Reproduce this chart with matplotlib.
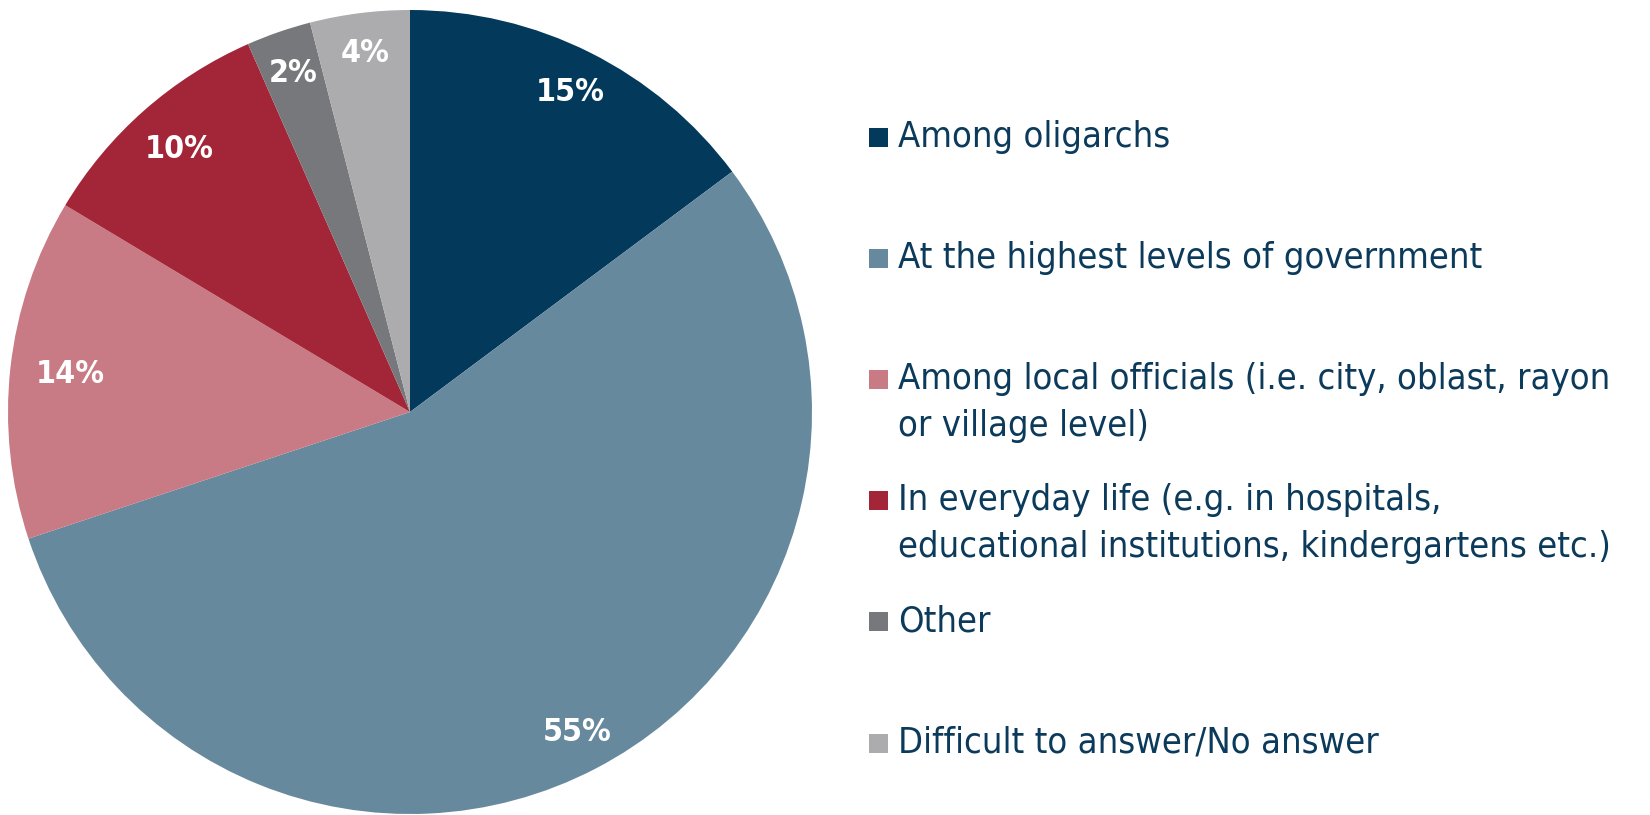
import matplotlib
matplotlib.use("Agg")
import matplotlib.pyplot as plt
from matplotlib.patches import Rectangle
import numpy as np

categories = [
    "Among oligarchs",
    "At the highest levels of government",
    "Among local officials (i.e. city, oblast, rayon\nor village level)",
    "In everyday life (e.g. in hospitals,\neducational institutions, kindergartens etc.)",
    "Other",
    "Difficult to answer/No answer",
]
values = [14.8, 55.1, 13.7, 9.8, 2.6, 4.0]
pct_labels = ["15%", "55%", "14%", "10%", "2%", "4%"]
colors = ["#033a5c", "#67899e", "#c87a85", "#a32638", "#77787c", "#acacae"]

W, H = 1650, 815
fig = plt.figure(figsize=(W / 100, H / 100), dpi=100)
fig.patch.set_facecolor("white")

cx, cy, R = 410, 412, 402
ax = fig.add_axes([(cx - R) / W, (H - cy - R) / H, 2 * R / W, 2 * R / H])
wedges, _ = ax.pie(values, colors=colors, startangle=90, counterclock=False,
                   radius=1, wedgeprops=dict(linewidth=0))
ax.set_xlim(-1, 1)
ax.set_ylim(-1, 1)
ax.set_aspect("equal")
ax.axis("off")

label_dist = [0.89, 0.90, 0.85, 0.87, 0.89, 0.90]
cum = np.cumsum([0] + values)
total = cum[-1]
for i, lab in enumerate(pct_labels):
    mid = (cum[i] + cum[i + 1]) / 2 / total * 2 * np.pi
    r = label_dist[i]
    ax.text(r * np.sin(mid), r * np.cos(mid), lab, color="white", fontsize=23,
            fontweight="bold", ha="center", va="center",
            family="DejaVu Sans", fontstretch="condensed")

text_color = "#0b3a5b"
rows_y = [137, 258, 379, 500, 621, 743]
line_gap = 47
sq = 19
for i, (cat, col) in enumerate(zip(categories, colors)):
    y = rows_y[i]
    fig.add_artist(Rectangle((869 / W, (H - y - sq / 2) / H), sq / W, sq / H,
                             transform=fig.transFigure, facecolor=col, edgecolor="none"))
    for k, line in enumerate(cat.split("\n")):
        fig.text(898 / W, (H - (y + 10 + k * line_gap)) / H, line, color=text_color,
                 fontsize=26, ha="left", va="baseline",
                 family="DejaVu Sans", fontstretch="condensed")

fig.savefig("out.png", dpi=100)
